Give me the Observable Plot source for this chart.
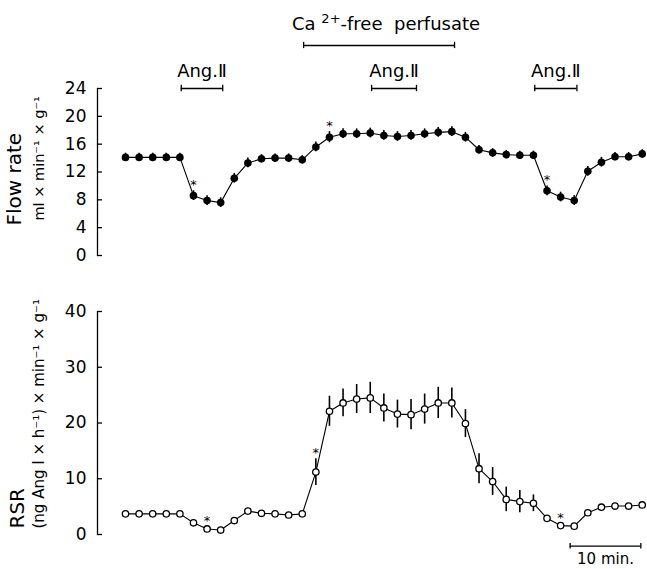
<!DOCTYPE html>
<html><head><meta charset="utf-8">
<script src="https://cdn.jsdelivr.net/npm/d3@7"></script>
<script src="https://cdn.jsdelivr.net/npm/@observablehq/plot@0.6"></script>
<style>
body{margin:0;background:#fff;}
#chart{position:relative;width:647px;height:569px;font-family:"DejaVu Sans",sans-serif;}
#chart svg{position:absolute;left:0;overflow:visible;background:transparent;}
</style></head><body><div id="chart"></div>
<script>
// time points (min)
const minutes = [0,2,4,6,8,10,12,14,16,18,20,22,24,26,28,30,32,34,36,38,40,42,44,46,48,50,52,54,56,58,60,62,64,66,68,70,72,74,76];
// Flow rate (ml x min-1 x g-1), mean and SEM
const flowRate = [14.1,14.1,14.1,14.1,14.1,8.6,7.9,7.6,11.1,13.3,13.9,14.0,14.0,13.75,15.6,17.0,17.5,17.5,17.6,17.25,17.1,17.25,17.5,17.7,17.8,17.0,15.2,14.75,14.5,14.4,14.4,9.3,8.4,7.9,12.1,13.4,14.2,14.2,14.6];
const flowErr  = [0.6,0.6,0.6,0.6,0.6,0.7,0.7,0.7,0.7,0.7,0.6,0.6,0.6,0.6,0.7,0.8,0.7,0.7,0.7,0.7,0.7,0.7,0.7,0.7,0.7,0.7,0.6,0.6,0.6,0.6,0.6,0.7,0.7,0.7,0.7,0.7,0.6,0.6,0.6];
// RSR, mean and SEM
const rsr    = [3.7,3.7,3.7,3.7,3.7,2.1,1.0,0.8,2.5,4.2,3.8,3.7,3.5,3.7,11.2,22.1,23.6,24.3,24.5,22.7,21.6,21.5,22.5,23.6,23.6,19.9,11.8,9.5,6.3,5.9,5.6,2.9,1.6,1.5,3.9,4.9,5.1,5.1,5.3];
const rsrErr = [0.3,0.3,0.3,0.3,0.3,0.3,0.3,0.3,0.3,0.3,0.3,0.3,0.3,0.3,2.4,2.7,2.5,2.6,2.8,2.5,2.5,2.7,2.7,2.8,2.7,2.5,2.7,2.5,2.2,2.0,1.5,0.3,0.3,0.3,0.3,0.3,0.3,0.3,0.3];
// significance marks (minutes)
const flowStars = [10, 30, 62];
const rsrStars = [12, 28, 64];
// infusion periods (minutes)
const angIIPeriods = [[8.2,14.3],[36.2,42.8],[60.2,66.4]];
const caFreePeriod = [26.2, 48.4];
const scaleBar = [65.4, 75.8];
// ticks
const flowTicks = [0,4,8,12,16,20,24];
const rsrTicks = [0,10,20,30,40];
const angLabel = "Ang.Ⅱ";
const caLabel = "Ca²⁺-free  perfusate";

const font = "DejaVu Sans";
const xOpt = {domain: [0, 76], range: [125, 641.7], axis: null};
const baseStyle = {fontFamily: font, fontSize: "17px", color: "black", background: "transparent", overflow: "visible"};

const flowData = minutes.map((t, i) => ({t, v: flowRate[i], e: flowErr[i]}));
const rsrData = minutes.map((t, i) => ({t, v: rsr[i], e: rsrErr[i]}));

const angY = 24, caY = 30.18, capF = 0.45;
// inward-pointing axis tick glyph
const inTick = {draw(ctx) { ctx.moveTo(0, 0); ctx.lineTo(4.5, 0); }};

const topPlot = Plot.plot({
  width: 647, height: 280, marginTop: 88, marginBottom: 25, marginLeft: 97, marginRight: 5,
  style: baseStyle,
  x: xOpt,
  y: {domain: [0, 24]},
  marks: [
    Plot.frame({anchor: "left", strokeWidth: 1.3}),
    Plot.axisY({ticks: flowTicks, tickSize: 0, tickPadding: 11, fontSize: 17, tickFormat: d => d, label: null}),
    Plot.dot(flowTicks, {y: d => d, frameAnchor: "left", symbol: inTick, r: 3, stroke: "black", fill: "none", strokeWidth: 1.3}),
    Plot.line(flowData, {x: "t", y: "v", strokeWidth: 1.1}),
    Plot.ruleX(flowData, {x: "t", y1: d => d.v - d.e, y2: d => d.v + d.e, strokeWidth: 1.6}),
    Plot.dot(flowData, {x: "t", y: "v", r: 3.8, fill: "black", stroke: "none"}),
    Plot.text(flowData.filter(d => flowStars.includes(d.t)), {x: "t", y: d => d.v + d.e, text: () => "*", dy: -6, fontSize: 13}),
    // Ang II bars
    Plot.ruleY(angIIPeriods, {x1: d => d[0], x2: d => d[1], y: () => angY, strokeWidth: 1.3}),
    Plot.ruleX(angIIPeriods.flat(), {x: d => d, y1: () => angY - capF, y2: () => angY + capF, strokeWidth: 1.3}),
    Plot.text(angIIPeriods, {x: d => (d[0] + d[1]) / 2, y: () => angY, text: () => angLabel, dy: -17, fontSize: 18, letterSpacing: 0.5}),
    // Ca-free bar
    Plot.ruleY([caFreePeriod], {x1: d => d[0], x2: d => d[1], y: () => caY, strokeWidth: 1.3}),
    Plot.ruleX(caFreePeriod, {x: d => d, y1: () => caY - capF, y2: () => caY + capF, strokeWidth: 1.3}),
    Plot.text([caFreePeriod], {x: d => (d[0] + d[1]) / 2, y: () => caY, text: () => caLabel, dx: 7, dy: -21, fontSize: 18, letterSpacing: 1.2, className: "calabel"}),
    // y labels
    Plot.text(["Flow rate"], {frameAnchor: "bottom-left", text: d => d, rotate: -90, textAnchor: "start", dx: -77, dy: -30, fontSize: 20, letterSpacing: 1}),
    Plot.text(["ml × min⁻¹ × g⁻¹"], {frameAnchor: "bottom-left", text: d => d, rotate: -90, textAnchor: "start", dx: -54, dy: -35, fontSize: 14.5})
  ]
});

const bottomPlot = Plot.plot({
  width: 647, height: 289, marginTop: 31, marginBottom: 35, marginLeft: 97, marginRight: 5,
  style: baseStyle,
  x: xOpt,
  y: {domain: [0, 40]},
  marks: [
    Plot.frame({anchor: "left", strokeWidth: 1.3}),
    Plot.axisY({ticks: rsrTicks, tickSize: 0, tickPadding: 11, fontSize: 17, tickFormat: d => d, label: null}),
    Plot.dot(rsrTicks, {y: d => d, frameAnchor: "left", symbol: inTick, r: 3, stroke: "black", fill: "none", strokeWidth: 1.3}),
    Plot.line(rsrData, {x: "t", y: "v", strokeWidth: 1.1}),
    Plot.ruleX(rsrData, {x: "t", y1: d => d.v - d.e, y2: d => d.v + d.e, strokeWidth: 1.6}),
    Plot.dot(rsrData, {x: "t", y: "v", r: 3.2, fill: "white", stroke: "black", strokeWidth: 1.3}),
    Plot.text(rsrData.filter(d => rsrStars.includes(d.t)), {x: "t", y: d => d.v + d.e, text: () => "*", dy: -6, fontSize: 13}),
    // scale bar
    Plot.ruleY([scaleBar], {x1: d => d[0], x2: d => d[1], y: () => -2.1, strokeWidth: 1.3}),
    Plot.ruleX(scaleBar, {x: d => d, y1: () => -2.1 - 0.5, y2: () => -2.1 + 0.5, strokeWidth: 1.3}),
    Plot.text([scaleBar], {x: d => (d[0] + d[1]) / 2, y: () => -2.1, text: () => "10 min.", dy: 13, fontSize: 15}),
    // y labels
    Plot.text(["RSR"], {frameAnchor: "bottom-left", text: d => d, rotate: -90, textAnchor: "start", dx: -74, dy: -6, fontSize: 20, letterSpacing: 0.8}),
    Plot.text(["(ng Ang Ⅰ × h⁻¹) × min⁻¹ × g⁻¹"], {frameAnchor: "bottom-left", text: d => d, rotate: -90, textAnchor: "start", dx: -54, dy: -6, fontSize: 15})
  ]
});

// render the Ca2+ superscript as a raised, smaller tspan
const caText = topPlot.querySelector(".calabel text");
if (caText) {
  caText.textContent = "";
  const ns = "http://www.w3.org/2000/svg";
  caText.appendChild(document.createTextNode("Ca "));
  const sup = document.createElementNS(ns, "tspan");
  sup.setAttribute("dy", "-7"); sup.setAttribute("font-size", "13");
  sup.textContent = "2+";
  caText.appendChild(sup);
  const rest = document.createElementNS(ns, "tspan");
  rest.setAttribute("dy", "7");
  rest.textContent = "-free  perfusate";
  caText.appendChild(rest);
}

const chart = document.getElementById("chart");
topPlot.style.top = "0px";
bottomPlot.style.top = "280px";
chart.appendChild(topPlot);
chart.appendChild(bottomPlot);
</script></body></html>
